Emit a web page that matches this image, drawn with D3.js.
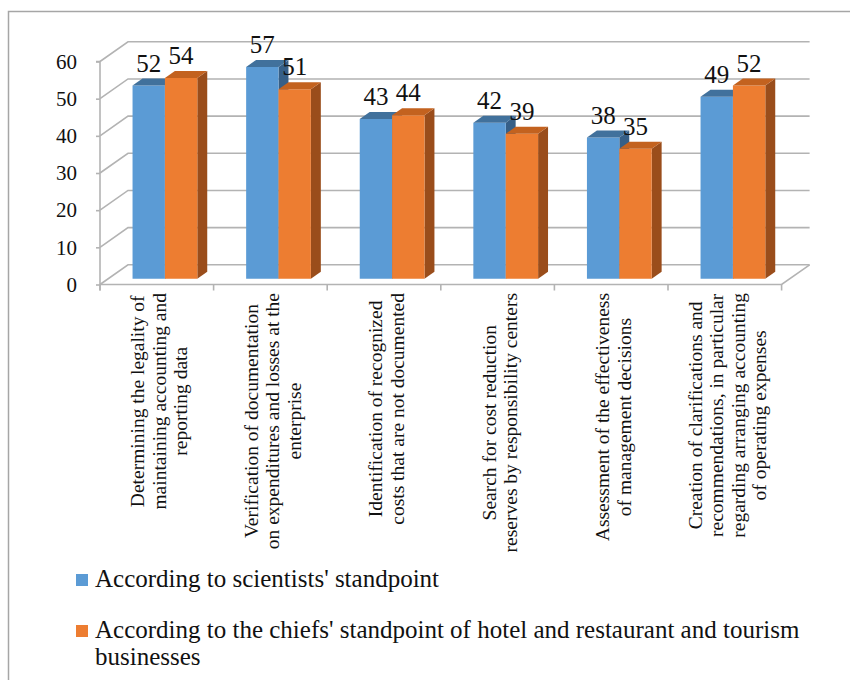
<!DOCTYPE html>
<html>
<head>
<meta charset="utf-8">
<script src="https://cdn.jsdelivr.net/npm/d3@7/dist/d3.min.js"></script>
<style>
  html, body { margin: 0; padding: 0; background: #fff; }
  svg { display: block; }
</style>
</head>
<body>
<svg id="chart" width="850" height="680"></svg>
<script>
// Category labels, one array of lines per category
const categories = [
  ["Determining the legality of", "maintaining accounting and", "reporting data"],
  ["Verification of documentation", "on expenditures and losses at the", "enterprise"],
  ["Identification of recognized", "costs that are not documented"],
  ["Search for cost reduction", "reserves by responsibility centers"],
  ["Assessment of the effectiveness", "of management decisions"],
  ["Creation of clarifications and", "recommendations, in particular", "regarding arranging accounting", "of operating expenses"]
];
const legendLines = [
  ["According to scientists' standpoint"],
  ["According to the chiefs' standpoint of hotel and restaurant and tourism", "businesses"]
];
const scientists = [52, 57, 43, 42, 38, 49];
const chiefs = [54, 51, 44, 39, 35, 52];
const yTicks = [0, 10, 20, 30, 40, 50, 60];

const seriesValues = [scientists, chiefs];
const colors = [
  { front: "#5B9BD5", top: "#41719C", side: "#365F87" },
  { front: "#ED7D31", top: "#C3621F", side: "#9A4D1B" }
];
const FACE = "Liberation Serif";
// apply the serif face directly on a text selection
const serif = (sel, size) => sel
  .attr("font-family", FACE)
  .style("font-family", `'${FACE}'`)
  .attr("font-size", size)
  .style("font-size", size + "px")
  .attr("fill", "#111");

const svg = d3.select("#chart");

// outer frame
svg.append("rect")
  .attr("x", 8.5).attr("y", 11.5)
  .attr("width", 850).attr("height", 680)
  .attr("fill", "none").attr("stroke", "#a6a6a6").attr("stroke-width", 1.5);

// front plane geometry and oblique depth offset
const left = 100, right = 781.6;
const DX = 28, DY = -19.7;
const y = d3.scaleLinear().domain([0, 60]).range([284.5, 61.5]);
const idx = d3.range(categories.length);
const x0 = d3.scaleBand().domain(idx).range([left, right]).padding(0);
const pairFrac = 0.57;
const x1 = d3.scaleBand().domain([0, 1])
  .range([0, x0.bandwidth() * pairFrac]).padding(0);
const pairOffset = x0.bandwidth() * (1 - pairFrac) / 2;
const P = (xf, v, d) => [xf + DX * d, y(v) + DY * d];

const gridColor = "#b3b3b3";
const grid = svg.append("g")
  .attr("fill", "none").attr("stroke", gridColor).attr("stroke-width", 1.6);

// side wall and back wall gridlines
yTicks.forEach(t => {
  const a = P(left, t, 0), b = P(left, t, 1), c = P(right, t, 1);
  grid.append("path").attr("d", `M${a}L${b}L${c}`);
});
// floor: front edge and right edge
{
  const a = P(left, 0, 0), b = P(right, 0, 0), c = P(right, 0, 1);
  grid.append("path").attr("d", `M${a}L${b}L${c}`);
}

// value axis (front)
const yAxis = svg.append("g")
  .attr("transform", `translate(${left},0)`)
  .call(d3.axisLeft(y).tickValues(yTicks).tickSize(4).tickPadding(19));
yAxis.attr("font-family", null).attr("font-size", null);
yAxis.select(".domain").attr("stroke", gridColor).attr("stroke-width", 1.6)
  .attr("d", `M-4,${y(60)}H0V${y(0) + 6}`);
yAxis.selectAll(".tick line").attr("stroke", gridColor).attr("stroke-width", 1.6);
serif(yAxis.selectAll(".tick text"), 21);

// category tick marks at band edges
const edges = idx.map(i => x0(i)).concat([right]);
svg.append("g").selectAll("line").data(edges).join("line")
  .attr("x1", d => d).attr("x2", d => d)
  .attr("y1", y(0)).attr("y2", y(0) + 6)
  .attr("stroke", gridColor).attr("stroke-width", 1.6);

// 3D bars: side, front, then top face
const dFront = 0.29, dBack = 0.645;
const bars = svg.append("g");
idx.forEach(i => {
  [0, 1].forEach(s => {
    const v = seriesValues[s][i];
    const xl = x0(i) + pairOffset + x1(s);
    const xr = xl + x1.bandwidth();
    const c = colors[s];
    const f = [P(xl, 0, dFront), P(xr, 0, dFront), P(xr, v, dFront), P(xl, v, dFront)];
    const sd = [P(xr, 0, dFront), P(xr, 0, dBack), P(xr, v, dBack), P(xr, v, dFront)];
    const tp = [P(xl, v, dFront), P(xr, v, dFront), P(xr, v, dBack), P(xl, v, dBack)];
    bars.append("path").attr("d", "M" + sd.join("L") + "Z").attr("fill", c.side);
    bars.append("path").attr("d", "M" + f.join("L") + "Z").attr("fill", c.front);
    bars.append("path").attr("d", "M" + tp.join("L") + "Z").attr("fill", c.top);
  });
});

// value labels
const labels = svg.append("g");
idx.forEach(i => {
  [0, 1].forEach(s => {
    const v = seriesValues[s][i];
    const xl = x0(i) + pairOffset + x1(s);
    const pt = P(xl + x1.bandwidth() / 2, v, dFront);
    serif(labels.append("text"), 25)
      .attr("x", pt[0]).attr("y", pt[1] - 14)
      .attr("text-anchor", "middle")
      .text(v);
  });
});

// rotated category labels, top-aligned below the axis
const catFont = 19.5, lineH = 21.5, labelTop = 293;
const catG = svg.append("g");
idx.forEach(i => {
  const lines = categories[i];
  const cx = x0(i) + x0.bandwidth() / 2 + 2.5;
  const g = catG.append("g");
  const texts = lines.map(ln => serif(g.append("text"), catFont)
    .attr("text-anchor", "middle")
    .attr("dominant-baseline", "central")
    .text(ln));
  const maxLen = d3.max(texts, t => t.node().getComputedTextLength());
  const cy = labelTop + maxLen / 2;
  texts.forEach((t, k) => {
    const lx = cx + (k - (lines.length - 1) / 2) * lineH;
    t.attr("transform", `translate(${lx},${cy}) rotate(-90)`);
  });
});

// legend
const legend = svg.append("g");
const legendRows = [{ sq: 574, base: 587 }, { sq: 625, base: 638 }];
legendRows.forEach((r, s) => {
  legend.append("rect")
    .attr("x", 76).attr("y", r.sq).attr("width", 12).attr("height", 12)
    .attr("fill", colors[s].front);
  legendLines[s].forEach((ln, k) => {
    serif(legend.append("text"), 25)
      .attr("x", 95).attr("y", r.base + k * 27)
      .text(ln);
  });
});
</script>
</body>
</html>
